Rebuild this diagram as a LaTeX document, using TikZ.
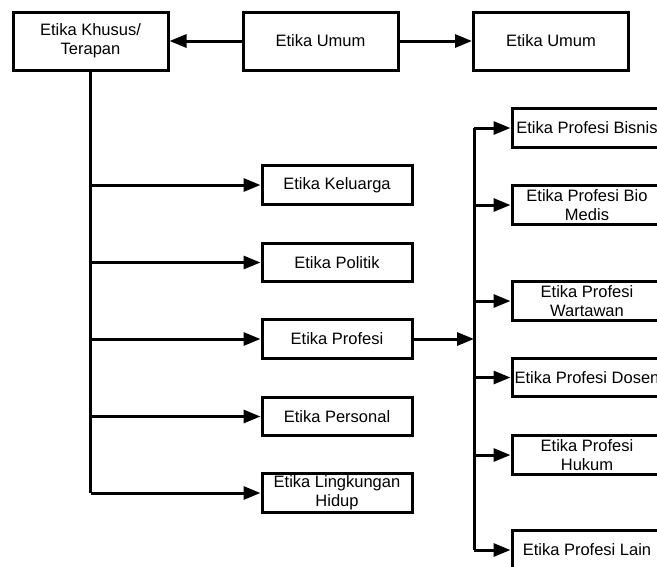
\documentclass[tikz,border=0pt]{standalone}
\usepackage{fontspec}
\setmainfont{Liberation Sans}
\usetikzlibrary{arrows.meta}
\begin{document}
\begin{tikzpicture}[x=1pt, y=-1pt,
        every node/.style={rectangle, align=center, font=\fontsize{16.5}{19}\selectfont},
        box/.style={draw, line width=3pt, minimum width=150pt, minimum height=38.5pt, inner sep=0pt},
        topbox/.style={box, minimum width=155pt, minimum height=58pt},
        link/.style={draw, line width=3pt, -{Triangle[length=17pt,width=13pt]}},
        bus/.style={draw, line width=3pt}]
    \useasboundingbox (0,0) rectangle (657,566);
    \clip (0,0) rectangle (657,566);
    % top row
    \node [topbox] (khusus) at (90.5,41) {Etika Khusus/\\Terapan};
    \node [topbox] (umum) at (320.5,41) {Etika Umum};
    \node [topbox] (umum2) at (551,41) {Etika Umum};
    \draw [link] (umum) -- (khusus);
    \draw [link] (umum) -- (umum2);
    % left column
    \node [box] (keluarga) at (337,185) {Etika Keluarga};
    \node [box] (politik) at (337,262.5) {Etika Politik};
    \node [box] (profesi) at (337,339) {Etika Profesi};
    \node [box] (personal) at (337,416.5) {Etika Personal};
    \node [box] (lingkungan) at (337,493) {Etika Lingkungan\\Hidup};
    \draw [bus] (khusus.south) -- (khusus.south |- lingkungan.west);
    \foreach \n in {keluarga, politik, profesi, personal, lingkungan}
        \draw [link] (khusus.south |- \n.west) -- (\n.west);
    % right column
    \node [box] (bisnis) at (587,128) {Etika Profesi Bisnis};
    \node [box] (biomedis) at (587,205) {Etika Profesi Bio\\Medis};
    \node [box] (wartawan) at (587,301) {Etika Profesi\\Wartawan};
    \node [box] (dosen) at (587,377.5) {Etika Profesi Dosen};
    \node [box] (hukum) at (587,455) {Etika Profesi\\Hukum};
    \node [box] (lain) at (587,550) {Etika Profesi Lain};
    \coordinate (split) at (474,339);
    \draw [link] (profesi) -- (split);
    \draw [bus] (split |- bisnis.west) -- (split |- lain.west);
    \foreach \n in {bisnis, biomedis, wartawan, dosen, hukum, lain}
        \draw [link] (split |- \n.west) -- (\n.west);
\end{tikzpicture}
\end{document}
